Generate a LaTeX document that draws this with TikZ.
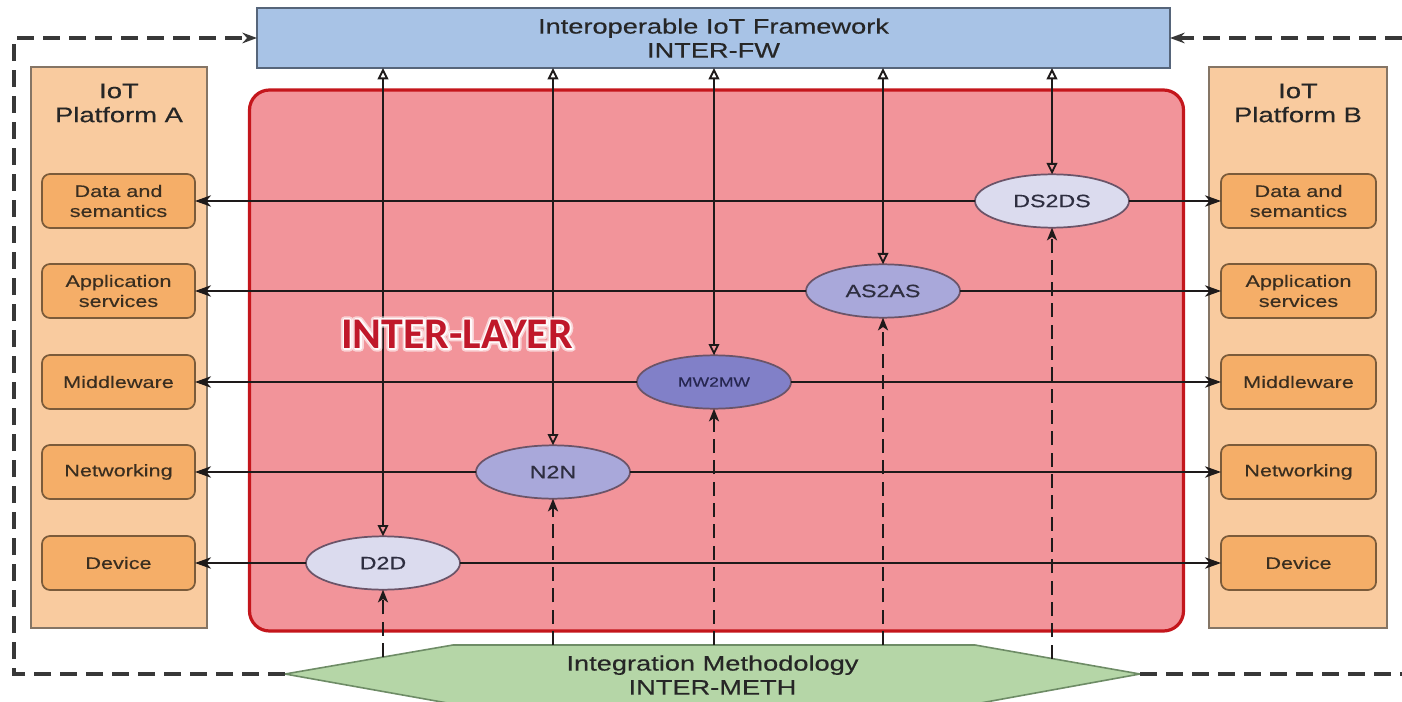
\documentclass[tikz,border=0pt]{standalone}
\usepackage{fontspec}
\usetikzlibrary{arrows.meta,shapes.geometric}
\newfontfamily\diagfont[FakeStretch=1.3,FakeBold=0.35]{Liberation Sans}
\newfontfamily\layerfont{Carlito}

\definecolor{fwblue}{HTML}{A8C3E6}
\definecolor{fwedge}{HTML}{56657A}
\definecolor{platfill}{HTML}{F9CB9F}
\definecolor{platedge}{HTML}{857565}
\definecolor{subfill}{HTML}{F5AE68}
\definecolor{subedge}{HTML}{7B5B3A}
\definecolor{layerfill}{HTML}{F2949A}
\definecolor{layeredge}{HTML}{C4161C}
\definecolor{methfill}{HTML}{B5D6A7}
\definecolor{methedge}{HTML}{6E8C66}
\definecolor{elledge}{HTML}{6B5468}
\definecolor{ellpale}{HTML}{DBDBEE}
\definecolor{ellmid}{HTML}{A9A8DA}
\definecolor{elldark}{HTML}{8180C8}
\definecolor{layertxt}{HTML}{C0182A}
\definecolor{inkdark}{HTML}{262626}
\definecolor{subtxt}{HTML}{3A2E20}
\definecolor{elltxt}{HTML}{2E2E40}
\definecolor{mwtxt}{HTML}{262650}
\definecolor{wire}{HTML}{1E1A1A}

\begin{document}
\begin{tikzpicture}[x=0.75pt,y=-0.75pt,
  fwbox/.style={draw=fwedge,fill=fwblue,line width=1.2pt,minimum width=684.75pt,
    minimum height=45pt,inner sep=0pt,outer sep=0pt,align=center,text=inkdark,
    font=\diagfont\fontsize{15.7}{18}\selectfont},
  platbox/.style={draw=platedge,fill=platfill,line width=1.2pt,inner sep=0pt,outer sep=0pt,
    minimum height=420.75pt},
  plattitle/.style={inner sep=0pt,align=center,text=inkdark,
    font=\diagfont\fontsize{15.8}{18}\selectfont},
  subbox/.style={draw=subedge,fill=subfill,line width=1.3pt,rounded corners=6pt,
    minimum height=40.5pt,inner sep=0pt,outer sep=0pt,align=center,text=subtxt,
    font=\diagfont\fontsize{12.5}{15}\selectfont},
  subA/.style={subbox,minimum width=114.75pt},
  subB/.style={subbox,minimum width=116.25pt},
  layerbox/.style={draw=layeredge,fill=layerfill,line width=2.4pt,rounded corners=15pt,
    minimum width=700.5pt,minimum height=405.75pt,inner sep=0pt},
  ell/.style={ellipse,draw=elledge,line width=1.3pt,minimum width=115.5pt,
    minimum height=40pt,inner sep=0pt,outer sep=0pt,text=elltxt,
    font=\diagfont\fontsize{13.4}{16}\selectfont},
  frame/.style={draw=black!78,line width=2.6pt,dash pattern=on 12.75pt off 6.75pt},
  hline/.style={draw=wire,line width=1.6pt,-{Stealth[length=12pt,width=8.5pt,inset=3.5pt]}},
  vline/.style={draw=wire,line width=1.8pt,
    {Triangle[open,length=8.5pt,width=8pt,line width=1.4pt]}-{Triangle[open,length=8.5pt,width=8pt,line width=1.4pt]}},
  dline/.style={draw=wire,line width=2.2pt,dash pattern=on 10.5pt off 5.5pt,
    -{Stealth[length=9.5pt,width=7.5pt,inset=2.5pt]}},
]
\useasboundingbox (0,0) rectangle (1402,702);

% framework bar on top
\node[fwbox] (fw) at (713.5,38) {Interoperable IoT Framework\\INTER-FW};

% the two platforms with their layer stacks
\node[platbox,minimum width=132pt] (pa) at (119,347.5) {};
\node[platbox,minimum width=133.5pt] (pb) at (1298,347.5) {};
\node[plattitle] (pat) at (119,103) {IoT\\Platform A};
\node[plattitle] (pbt) at (1298,103) {IoT\\Platform B};

\node[subA] (dsA) at (118.5,201) {Data and\\semantics};
\node[subA] (asA) at (118.5,291) {Application\\services};
\node[subA] (mwA) at (118.5,382) {Middleware};
\node[subA] (nA)  at (118.5,472) {Networking};
\node[subA] (dA)  at (118.5,563) {Device};

\node[subB] (dsB) at (1298.5,201) {Data and\\semantics};
\node[subB] (asB) at (1298.5,291) {Application\\services};
\node[subB] (mwB) at (1298.5,382) {Middleware};
\node[subB] (nB)  at (1298.5,472) {Networking};
\node[subB] (dB)  at (1298.5,563) {Device};

% interoperability layer
\node[layerbox] (layer) at (716.5,360.5) {};

% integration methodology banner
\draw[draw=methedge,fill=methfill,line width=1.2pt]
  (285,674) coordinate (methL) -- (453,645) -- (975,645) -- (1140,674) coordinate (methR)
  -- (975,704) -- (453,704) -- cycle;
\node[plattitle,font=\diagfont\fontsize{15.7}{18}\selectfont] (meth) at (712.5,675)
  {Integration Methodology\\INTER-METH};

% dashed feedback loop into the framework
\coordinate (tl) at (14,38);
\coordinate (bl) at (14,674);
\coordinate (tr) at (1402,38);
\coordinate (br) at (1402,674);
\draw[frame,-{Stealth[length=11pt,width=8pt]}] (methL) -- (bl) -- (tl) -- (fw.west);
\draw[frame] (methR) -- (br);
\draw[frame,-{Stealth[length=11pt,width=8pt]}] (tr) -- (fw.east);

% interoperability mechanisms
\node[ell,fill=ellpale] (ds2ds) at (1052,201) {DS2DS};
\node[ell,fill=ellmid]  (as2as) at (883,291)  {AS2AS};
\node[ell,fill=elldark,text=mwtxt,font=\diagfont\fontsize{10.1}{12}\selectfont] (mw2mw) at (714,382) {MW2MW};
\node[ell,fill=ellmid]  (n2n)   at (553,472)  {N2N};
\node[ell,fill=ellpale] (d2d)   at (383,563)  {D2D};

% horizontal links to both platforms
\foreach \m/\a/\b in {ds2ds/dsA/dsB, as2as/asA/asB, mw2mw/mwA/mwB, n2n/nA/nB, d2d/dA/dB}{
  \draw[hline] (\m) -- (\a);
  \draw[hline] (\m) -- (\b);
}

% links to the framework
\foreach \m in {d2d,n2n,mw2mw,as2as,ds2ds}{
  \draw[vline] (\m) -- (\m |- fw.south);
}

% links from the methodology
\coordinate (md2d)  at (383,657);
\coordinate (mn2n)  at (553,645);
\coordinate (mmw)   at (714,645);
\coordinate (mas)   at (883,645);
\coordinate (mds)   at (1052,658.5);
\draw[dline] (md2d) -- (d2d);
\draw[dline] (mn2n) -- (n2n);
\draw[dline] (mmw)  -- (mw2mw);
\draw[dline] (mas)  -- (as2as);
\draw[dline] (mds)  -- (ds2ds);

% layer label with a white halo
\node[inner sep=0pt,text=white,opacity=0.6,
  font=\layerfont\bfseries\fontsize{32.8}{36}\selectfont]
  at (457,334) {\special{pdf:literal direct 1 Tr 5 w 1 1 1 RG 1 j}INTER-LAYER\special{pdf:literal direct 0 Tr}};
\node[inner sep=0pt,text=white,opacity=0.9,
  font=\layerfont\bfseries\fontsize{32.8}{36}\selectfont]
  at (457,334) {\special{pdf:literal direct 1 Tr 2.5 w 1 1 1 RG 1 j}INTER-LAYER\special{pdf:literal direct 0 Tr}};
\node[inner sep=0pt,text=layertxt,font=\layerfont\bfseries\fontsize{32.8}{36}\selectfont]
  (laylabel) at (457,334) {INTER-LAYER};
\end{tikzpicture}
\end{document}
